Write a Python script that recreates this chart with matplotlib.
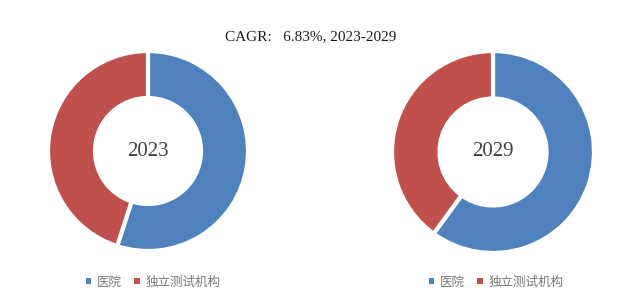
import matplotlib.pyplot as plt
from matplotlib.patches import Patch

# data
labels = ["医院", "独立测试机构"]
years = ["2023", "2029"]
share_2023 = [55, 45]
share_2029 = [60, 40]
title = "CAGR:   6.83%, 2023-2029"
colors = ["#4F81BD", "#C0504D"]

W, H = 642, 303
fig = plt.figure(figsize=(W / 100, H / 100), dpi=100)

serif = ["Liberation Serif", "DejaVu Serif"]
cjk = ["Noto Sans CJK SC", "DejaVu Sans"]


def donut(rect, values, year):
    ax = fig.add_axes(rect)
    ax.pie(values, colors=colors, startangle=90, counterclock=False,
           radius=1.0, wedgeprops=dict(width=0.47, edgecolor="white", linewidth=3))
    ax.set_xlim(-1.02, 1.02)
    ax.set_ylim(-1.02, 1.02)
    ax.set_aspect("equal")
    ax.axis("off")
    ax.text(0, 0, year, ha="center", va="center", fontsize=15,
            color="#404040", family=serif)
    return ax


donut([46 / W, (H - 253) / H, 204 / W, 204 / H], share_2023, years[0])
donut([390 / W, (H - 255) / H, 206 / W, 206 / H], share_2029, years[1])

fig.text(311 / W, 1 - 37 / H, title, ha="center", va="center",
         fontsize=11, color="#1a1a1a", family=serif)

handles = [Patch(facecolor=c, edgecolor="none") for c in colors]
for cx in (153, 496):
    fig.legend(handles, labels, loc="center", bbox_to_anchor=(cx / W, 1 - 282 / H),
               ncol=2, frameon=False, handlelength=0.45, handleheight=0.45,
               handletextpad=0.45, columnspacing=1.0,
               prop={"family": cjk, "size": 9}, labelcolor="#767676")

fig.savefig("out.png", dpi=100)
